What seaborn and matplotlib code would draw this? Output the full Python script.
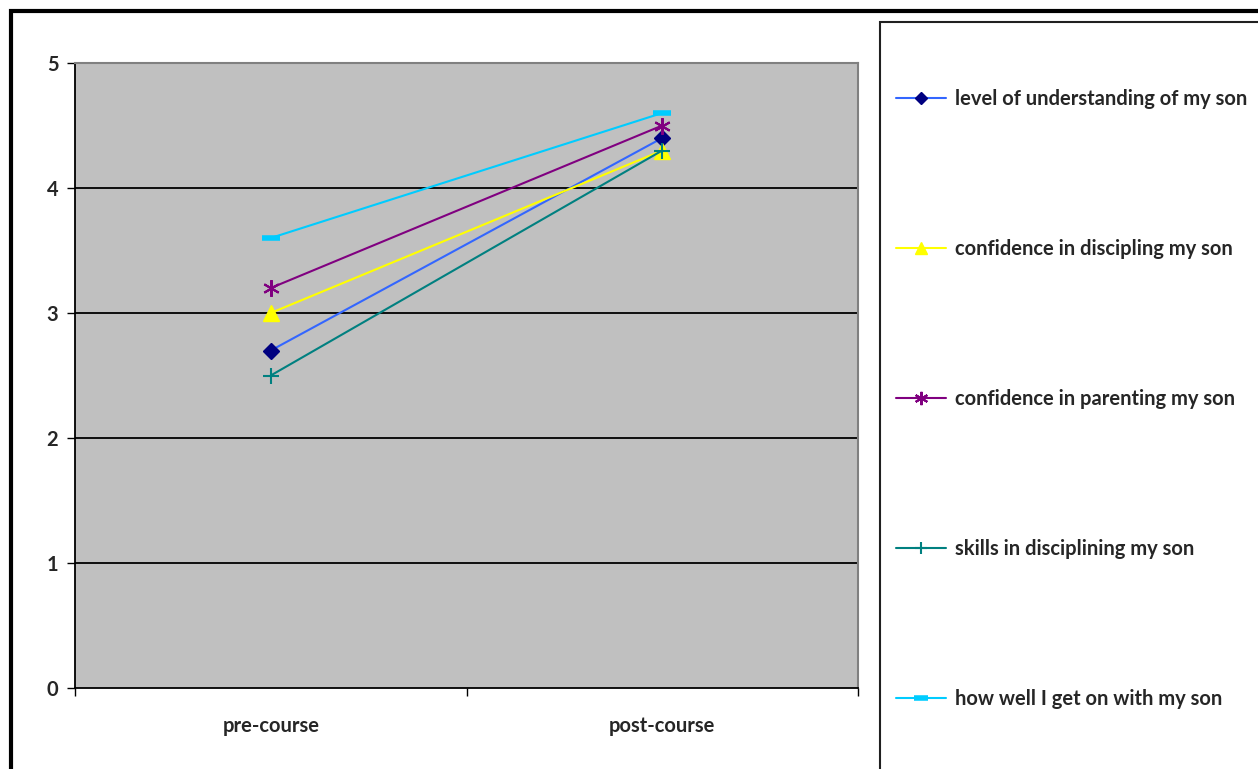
import matplotlib
matplotlib.use("Agg")
import matplotlib.pyplot as plt
from matplotlib.patches import Rectangle
from matplotlib.lines import Line2D
import seaborn as sns
import pandas as pd

# Survey results: mean ratings before and after the course
stages = ["pre-course", "post-course"]
understanding = [2.7, 4.4]
discipline_confidence = [3.0, 4.3]
parenting_confidence = [3.2, 4.5]
discipline_skills = [2.5, 4.3]
getting_on = [3.6, 4.6]
y_ticks = [0, 1, 2, 3, 4, 5]

series_names = [
    "level of understanding of my son",
    "confidence in discipling my son",
    "confidence in parenting my son",
    "skills in disciplining my son",
    "how well I get on with my son",
]
series_values = [understanding, discipline_confidence, parenting_confidence,
                 discipline_skills, getting_on]

line_colors = ["#3366FF", "#FFFF00", "#800080", "#008080", "#00CCFF"]
marker_faces = ["#000080", "#FFFF00", "#800080", "#008080", "#00CCFF"]
markers = ["D", "^", (6, 2, 0), "+", "_"]
marker_sizes = [8, 11, 12, 11, 13]
marker_edgewidths = [1, 1, 1.5, 1.5, 4]

sns.set_theme(style="white")
plt.rcParams["font.family"] = ["Lato", "DejaVu Sans"]
plt.rcParams["font.weight"] = "bold"

FS = 14.5

fig = plt.figure(figsize=(12.58, 7.69), dpi=100)
fig.patch.set_facecolor("white")
ax = fig.add_axes([75 / 1258, 1 - 688 / 769, (858 - 75) / 1258, (688 - 63) / 769])
ax.set_facecolor("#C0C0C0")

for name, vals, lc, mk, mf, ms, mew in zip(series_names, series_values, line_colors,
                                           markers, marker_faces, marker_sizes,
                                           marker_edgewidths):
    df = pd.DataFrame({"stage": stages, "score": vals})
    sns.lineplot(data=df, x="stage", y="score", ax=ax, color=lc, linewidth=1.5,
                 marker=mk, markerfacecolor=mf, markeredgecolor=mf,
                 markersize=ms, markeredgewidth=mew, sort=False, zorder=3,
                 label=name, legend=False)

ax.set_xlim(-0.5, 1.5)
ax.set_ylim(0, 5)
ax.set_xlabel("")
ax.set_ylabel("")
ax.set_yticks(y_ticks, [str(t) for t in y_ticks], fontweight="bold", fontsize=FS)
ax.set_xticks([0, 1], stages, fontweight="bold", fontsize=FS)
ax.set_xticks([-0.5, 0.5, 1.5], minor=True)
ax.tick_params(axis="x", which="major", length=0, pad=20)
ax.tick_params(axis="x", which="minor", length=6, width=1, color="black",
               direction="out", bottom=True)
ax.tick_params(axis="y", which="major", length=6, width=1, color="black",
               direction="out", pad=6, left=True)

for y in [1, 2, 3, 4]:
    ax.axhline(y, color="black", linewidth=1.3, zorder=1)

for side in ["top", "right"]:
    ax.spines[side].set_color("#808080")
    ax.spines[side].set_linewidth(1.5)
for side in ["left", "bottom"]:
    ax.spines[side].set_color("black")
    ax.spines[side].set_linewidth(1.3)
    ax.spines[side].set_visible(True)

# outer chart border (extends past the image edges)
fig.add_artist(Rectangle((11 / 1258, -0.1), 1.2, 1 - 11 / 769 + 0.1,
                         transform=fig.transFigure, fill=False,
                         edgecolor="black", linewidth=3, clip_on=False))
# legend frame
fig.add_artist(Rectangle((880 / 1258, -0.1), 0.4, 1 - 22 / 769 + 0.1,
                         transform=fig.transFigure, fill=False,
                         edgecolor="#202020", linewidth=1.5, clip_on=False))

handles = []
for lc, mk, mf, ms, mew in zip(line_colors, markers, marker_faces,
                               marker_sizes, marker_edgewidths):
    handles.append(Line2D([], [], color=lc, linewidth=1.5, marker=mk,
                          markerfacecolor=mf, markeredgecolor=mf,
                          markersize=ms * 0.8, markeredgewidth=mew))
leg = fig.legend(handles=handles, labels=series_names, loc="upper left",
                 bbox_to_anchor=(888 / 1258, 1 - 81 / 769), frameon=False,
                 prop={"size": FS, "weight": "bold"}, handlelength=2.5,
                 handletextpad=0.45, labelspacing=6.45, borderaxespad=0)

fig.savefig("out.png", dpi=100, facecolor="white")
